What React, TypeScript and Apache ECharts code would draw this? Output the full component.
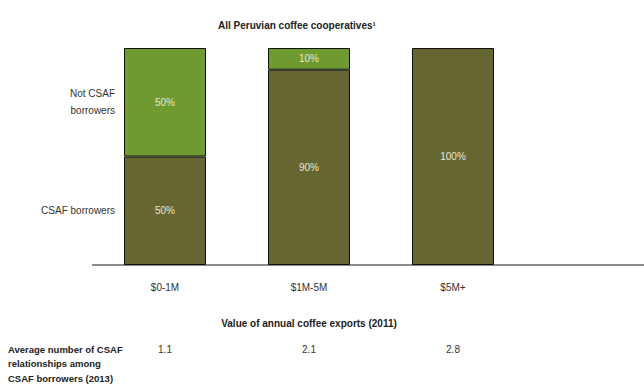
import React, { useEffect, useRef } from "react";
import * as echarts from "echarts";

const categories = ["$0-1M", "$1M-5M", "$5M+"];
const csafBorrowers = [50, 90, 100];
const notCsafBorrowers = [50, 10, 0];
const avgRelationships = ["1.1", "2.1", "2.8"];
const yLabels: Record<number, string> = { 25: "CSAF borrowers", 75: "Not CSAF\nborrowers" };

const FONT = "'Liberation Sans Narrow', 'Liberation Sans', sans-serif";
const DARK = "#666633";
const LIGHT = "#6f9a30";
const LABEL = "#e6e6d2";

export default function App() {
  const ref = useRef<HTMLDivElement>(null);
  useEffect(() => {
    if (!ref.current) return;
    const chart = echarts.init(ref.current, undefined, { renderer: "svg" });
    const label = {
      show: true,
      position: "inside" as const,
      color: LABEL,
      fontSize: 10,
      fontFamily: FONT,
      formatter: (p: any) => (p.value > 0 ? p.value + "%" : ""),
    };
    chart.setOption({
      animation: false,
      textStyle: { fontFamily: FONT },
      title: {
        text: "All Peruvian coffee cooperatives¹",
        left: 213,
        top: 15,
        textStyle: { fontSize: 10, fontWeight: "bold", color: "#222", fontFamily: FONT },
      },
      grid: { left: 93, top: 48, width: 432, height: 217, containLabel: false },
      xAxis: [
        {
          type: "category",
          data: categories,
          axisLine: { show: false },
          axisTick: { show: false },
          axisLabel: { color: "#333", fontSize: 10, margin: 17, fontFamily: FONT },
          name: "Value of annual coffee exports (2011)",
          nameLocation: "middle",
          nameGap: 53,
          nameTextStyle: { fontSize: 10, fontWeight: "bold", color: "#222", fontFamily: FONT },
        },
        {
          type: "category",
          position: "bottom",
          offset: 79,
          data: avgRelationships,
          axisLine: { show: false },
          axisTick: { show: false },
          axisLabel: { color: "#333", fontSize: 10, margin: 0, fontFamily: FONT },
        },
      ],
      yAxis: {
        type: "value",
        min: 0,
        max: 100,
        interval: 25,
        offset: -24,
        axisLine: { show: false },
        axisTick: { show: false },
        splitLine: { show: false },
        axisLabel: {
          color: "#333",
          fontSize: 10,
          margin: 2,
          fontFamily: FONT,
          lineHeight: 17,
          formatter: (v: number) => yLabels[v] || "",
        },
      },
      graphic: [
        {
          type: "line",
          z: 0,
          shape: { x1: 92, y1: 265, x2: 644, y2: 265 },
          style: { stroke: "#8a8a8a", lineWidth: 2 },
        },
        {
          type: "text",
          left: 8,
          top: 342,
          style: {
            text: "Average number of CSAF\nrelationships among\nCSAF borrowers (2013)",
            fontSize: 9.5,
            fontWeight: "bold",
            fill: "#222",
            fontFamily: FONT,
            lineHeight: 14.5,
          },
        },
      ],
      series: [
        {
          name: "CSAF borrowers",
          type: "bar",
          stack: "a",
          data: csafBorrowers.map((v) => (v > 0 ? v : "-")),
          barWidth: 82,
          itemStyle: { color: DARK, borderColor: "#111", borderWidth: 1 },
          label,
          z: 3,
        },
        {
          name: "Not CSAF borrowers",
          type: "bar",
          stack: "a",
          data: notCsafBorrowers.map((v) => (v > 0 ? v : "-")),
          barWidth: 82,
          itemStyle: { color: LIGHT, borderColor: "#111", borderWidth: 1 },
          label,
          z: 3,
        },
      ],
    });
    return () => chart.dispose();
  }, []);
  return (
    <div
      ref={ref}
      style={{ position: "fixed", left: 0, top: 0, width: 644, height: 387, background: "#fff" }}
    />
  );
}
